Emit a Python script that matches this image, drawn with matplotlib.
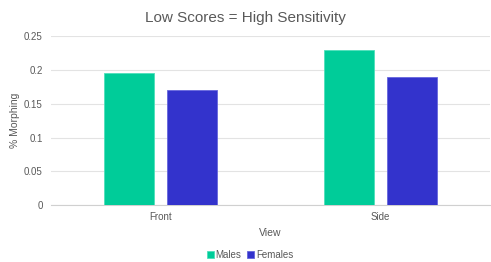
import numpy as np
import matplotlib
matplotlib.use("Agg")
import matplotlib.pyplot as plt

plt.rcParams["font.family"] = ["Liberation Sans", "DejaVu Sans"]

# ---------- данные ----------
views = ["Front", "Side"]
males = [0.195, 0.23]
females = [0.17, 0.19]
y_ticks = [0, 0.05, 0.1, 0.15, 0.2, 0.25]
y_tick_labels = ["0", "0.05", "0.1", "0.15", "0.2", "0.25"]

MALE_COLOR = "#00CC99"
FEMALE_COLOR = "#3333CC"
TEXT_COLOR = "#595959"

fig = plt.figure(figsize=(4.91, 2.62), dpi=100)
ax = fig.add_axes([51 / 491, 1 - 205.3 / 262, (490 - 51) / 491, (205.3 - 36) / 262])

x = np.arange(len(views))
w = 0.228
gap = 0.059
ax.bar(x - (w + gap) / 2, males, width=w, color=MALE_COLOR,
       edgecolor="#4fe0bb", linewidth=0.6, label="Males", zorder=3)
ax.bar(x + (w + gap) / 2, females, width=w, color=FEMALE_COLOR,
       edgecolor="#6666dd", linewidth=0.6, label="Females", zorder=3)

ax.set_xlim(-0.5, 1.5)
ax.set_ylim(0, 0.25)
ax.set_yticks(y_ticks)
ax.set_yticklabels(y_tick_labels)
ax.set_xticks(x)
ax.set_xticklabels(views)

ax.grid(axis="y", color="#e3e3e3", linewidth=0.8, zorder=0)
for s in ["top", "right", "left"]:
    ax.spines[s].set_visible(False)
ax.spines["bottom"].set_color("#d0d0d0")
ax.spines["bottom"].set_linewidth(0.8)
ax.tick_params(axis="both", length=0, labelsize=7, colors=TEXT_COLOR, pad=6)
ax.tick_params(axis="x", pad=5)

# заголовок по центру всей фигуры
fig.text(0.5, 1 - 18 / 262, "Low Scores = High Sensitivity", ha="center", va="center",
         fontsize=11, color=TEXT_COLOR)
ax.set_xlabel("View", fontsize=7.5, color=TEXT_COLOR, labelpad=4)
ax.set_ylabel("% Morphing", fontsize=7.5, color=TEXT_COLOR)
ax.yaxis.set_label_coords(-(51 - 20) / 439, 0.5)

leg = fig.legend(loc="center", bbox_to_anchor=(250 / 491, 1 - 255 / 262), ncol=2,
                 frameon=False, fontsize=7, handlelength=0.7, handleheight=0.7,
                 handletextpad=0.2, columnspacing=0.6, labelcolor=TEXT_COLOR)

fig.savefig("out.png", dpi=100)
